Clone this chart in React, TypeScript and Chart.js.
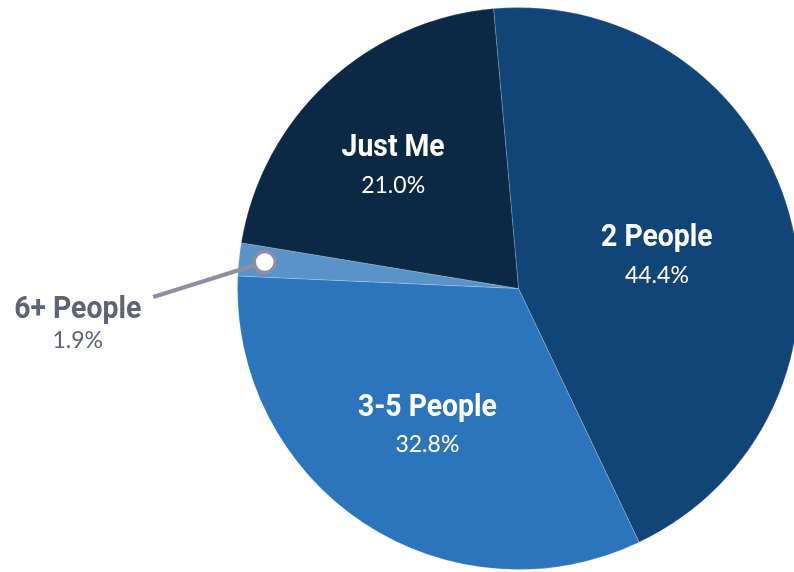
import React, { useEffect, useRef } from "react";
import { Chart, registerables } from "chart.js";

Chart.register(...registerables);

// ---- data ----
const categories = ["2 People", "3-5 People", "6+ People", "Just Me"];
const shares = [44.4, 32.8, 1.9, 21.0];
const percentLabels = ["44.4%", "32.8%", "1.9%", "21.0%"];

// ---- styling ----
const sliceColors = ["#124577", "#2C75BC", "#5A93C8", "#0B2845"];
const TITLE_FONT = "bold 31px Roboto, 'Noto Sans', sans-serif";
const TITLE_SCALE_X = 0.915;
const PCT_FONT = "400 23px Lato, 'Open Sans', sans-serif";
const GRAY_TEXT = "#5E6379";
const LEADER = "#8E8FA3";

// per-slice label placement: inside (radius factor, angle shift in degrees) or outside callout
const labelPlacement = [
  { kind: "inside", radius: 0.507, shift: 1.5 },
  { kind: "inside", radius: 0.582, shift: 0.3 },
  { kind: "outside", radius: 0.908, lineDx: -111.5, lineDy: 35, textDx: -187, textDy: 0 },
  { kind: "inside", radius: 0.627, shift: -2.5 },
];

function drawTitle(ctx: CanvasRenderingContext2D, text: string, x: number, y: number) {
  ctx.save();
  ctx.font = TITLE_FONT;
  ctx.textAlign = "center";
  ctx.textBaseline = "alphabetic";
  ctx.translate(x, y);
  ctx.scale(TITLE_SCALE_X, 1);
  ctx.fillText(text, 0, 0);
  ctx.restore();
}

const sliceLabelPlugin = {
  id: "sliceLabels",
  afterDatasetsDraw(chart: any) {
    const ctx: CanvasRenderingContext2D = chart.ctx;
    const meta = chart.getDatasetMeta(0);
    meta.data.forEach((arc: any, i: number) => {
      const p = arc.getProps(["x", "y", "startAngle", "endAngle", "outerRadius"], true);
      const cfg: any = labelPlacement[i];
      const mid = (p.startAngle + p.endAngle) / 2 + ((cfg.shift || 0) * Math.PI) / 180;
      const ax = p.x + Math.cos(mid) * p.outerRadius * cfg.radius;
      const ay = p.y + Math.sin(mid) * p.outerRadius * cfg.radius;
      ctx.save();
      ctx.textAlign = "center";
      ctx.textBaseline = "alphabetic";
      if (cfg.kind === "inside") {
        ctx.fillStyle = "#ffffff";
        drawTitle(ctx, categories[i], ax, ay - 8.3);
        ctx.font = PCT_FONT;
        ctx.fillText(percentLabels[i], ax, ay + 28);
      } else {
        const lx = ax + cfg.lineDx;
        const ly = ay + cfg.lineDy;
        ctx.strokeStyle = LEADER;
        ctx.lineWidth = 4;
        ctx.beginPath();
        ctx.moveTo(lx, ly);
        ctx.lineTo(ax, ay);
        ctx.stroke();
        ctx.beginPath();
        ctx.arc(ax, ay, 10.5, 0, Math.PI * 2);
        ctx.fillStyle = "#ffffff";
        ctx.fill();
        ctx.lineWidth = 3.5;
        ctx.stroke();
        const tx = ax + cfg.textDx;
        ctx.fillStyle = GRAY_TEXT;
        drawTitle(ctx, categories[i], tx, ly + 20.5);
        ctx.font = PCT_FONT;
        ctx.fillText(percentLabels[i], tx, ly + 51);
      }
      ctx.restore();
    });
  },
};

export default function App() {
  const canvasRef = useRef<HTMLCanvasElement | null>(null);

  useEffect(() => {
    if (!canvasRef.current) return;
    const chart = new Chart(canvasRef.current, {
      type: "pie",
      data: {
        labels: categories,
        datasets: [
          {
            data: shares,
            backgroundColor: sliceColors,
            borderColor: "rgba(255,255,255,0.18)",
            borderWidth: 1,
          },
        ],
      },
      options: {
        responsive: false,
        animation: false,
        rotation: -5.1,
        layout: { padding: { left: 237, right: 0, top: 7, bottom: 2 } },
        plugins: {
          legend: { display: false },
          tooltip: { enabled: false },
        },
      },
      plugins: [sliceLabelPlugin],
    });
    return () => chart.destroy();
  }, []);

  return (
    <div
      style={{
        position: "absolute",
        left: 0,
        top: 0,
        width: 794,
        height: 572,
        overflow: "hidden",
        background: "#ffffff",
      }}
    >
      <canvas ref={canvasRef} width={800} height={572} style={{ display: "block" }} />
    </div>
  );
}
